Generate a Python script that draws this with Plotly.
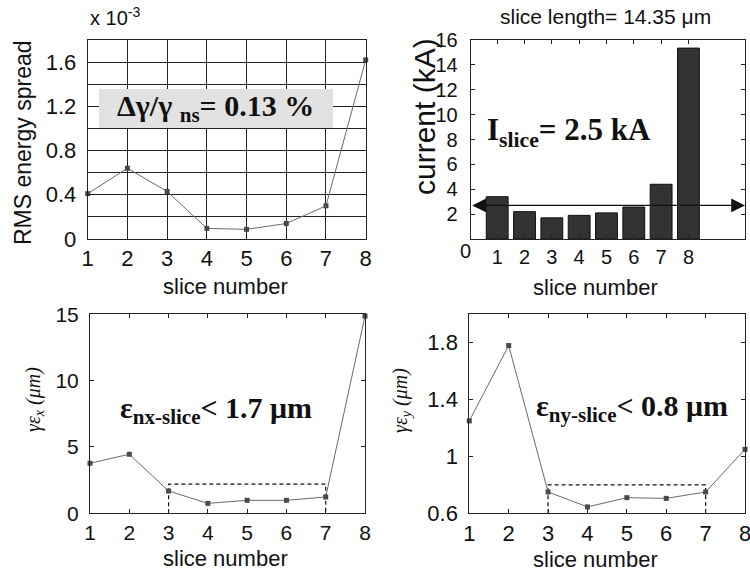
import plotly.graph_objects as go

# ---------------- data ----------------
slices = [1, 2, 3, 4, 5, 6, 7, 8]
energy_spread = [0.41, 0.64, 0.43, 0.096, 0.087, 0.14, 0.30, 1.62]      # x 10^-3
current_kA = [3.4, 2.2, 1.7, 1.9, 2.1, 2.57, 4.4, 15.35]
avg_current = 2.7
emit_x = [3.77, 4.45, 1.68, 0.75, 0.98, 0.98, 1.23, 14.87]
emit_y = [1.25, 1.78, 0.75, 0.645, 0.71, 0.705, 0.75, 1.05]
box_x = [3, 3, 7, 7]
box_x_top = [0, 2.2, 2.2, 0]
box_y_top = [0.6, 0.8, 0.8, 0.6]

p1_ticks = [0, 0.2, 0.4, 0.6, 0.8, 1.0, 1.2, 1.4, 1.6, 1.8]
p1_ticktext = ["0", "", "0.4", "", "0.8", "", "1.2", "", "1.6", ""]
p2_ticks = [0, 2, 4, 6, 8, 10, 12, 14, 16]
p2_ticktext = ["", "2", "4", "6", "8", "10", "12", "14", "16"]
p2_zero_label = "0"
p3_ticks = [0, 5, 10, 15]
p4_ticks = [0.6, 1.0, 1.4, 1.8]
p4_ticktext = ["0.6", "1", "1.4", "1.8"]

LINE = "#6a6a6a"
MARK = "#4a4a4a"
TXT = "#111111"
SANS = "Liberation Sans, Arial, sans-serif"
SERIF = "Liberation Serif, Times New Roman, serif"

fig = go.Figure()

mk = dict(symbol="square", size=5, color=MARK)
fig.add_trace(go.Scatter(x=slices, y=energy_spread, mode="lines+markers",
                         line=dict(color=LINE, width=1), marker=mk,
                         xaxis="x", yaxis="y", cliponaxis=False))
fig.add_trace(go.Bar(x=slices, y=current_kA, width=0.8,
                     marker=dict(color="#333333", line=dict(color="#111111", width=1)),
                     xaxis="x2", yaxis="y2"))
fig.add_trace(go.Scatter(x=box_x, y=box_x_top, mode="lines",
                         line=dict(color="#111111", width=1.2, dash="4px,3px"),
                         xaxis="x3", yaxis="y3", cliponaxis=False))
fig.add_trace(go.Scatter(x=slices, y=emit_x, mode="lines+markers",
                         line=dict(color=LINE, width=1), marker=mk,
                         xaxis="x3", yaxis="y3", cliponaxis=False))
fig.add_trace(go.Scatter(x=box_x, y=box_y_top, mode="lines",
                         line=dict(color="#111111", width=1.2, dash="4px,3px"),
                         xaxis="x4", yaxis="y4", cliponaxis=False))
fig.add_trace(go.Scatter(x=slices, y=emit_y, mode="lines+markers",
                         line=dict(color=LINE, width=1), marker=mk,
                         xaxis="x4", yaxis="y4", cliponaxis=False))

ax_common = dict(showline=True, linecolor="#222222", linewidth=1, mirror="ticks",
                 ticks="inside", ticklen=4, tickcolor="#222222", zeroline=False,
                 showgrid=False, automargin=False, ticklabeloverflow="allow",
                 tickfont=dict(family=SANS, color=TXT))

D1y = [1 - 239 / 576, 1 - 40 / 576]
D3y = [1 - 513.3 / 576, 1 - 314.3 / 576]

fig.update_layout(
    width=750, height=576, margin=dict(l=0, r=0, t=0, b=0, autoexpand=False),
    paper_bgcolor="white", plot_bgcolor="white", showlegend=False,
    xaxis=dict(ax_common, domain=[87.7 / 750, 365.7 / 750], range=[1, 8],
               tickvals=slices, showgrid=True, gridcolor="#222222", gridwidth=1,
               tickfont=dict(family=SANS, color=TXT, size=22), anchor="y"),
    yaxis=dict(ax_common, domain=D1y, range=[0, 1.8], tickvals=p1_ticks,
               ticktext=p1_ticktext, showgrid=True, gridcolor="#222222", gridwidth=1,
               ticklabelstandoff=6,
               tickfont=dict(family=SANS, color=TXT, size=22), anchor="x"),
    xaxis2=dict(ax_common, domain=[470.7 / 750, 745 / 750], range=[0.03, 10.07],
                tickvals=slices,
                tickfont=dict(family=SANS, color=TXT, size=20), anchor="y2"),
    yaxis2=dict(ax_common, domain=D1y, range=[0, 16], tickvals=p2_ticks,
                ticktext=p2_ticktext, ticklabelstandoff=8,
                tickfont=dict(family=SANS, color=TXT, size=20), anchor="x2"),
    xaxis3=dict(ax_common, domain=[90 / 750, 365 / 750], range=[1, 8],
                tickvals=slices, tickfont=dict(family=SANS, color=TXT, size=21), anchor="y3"),
    yaxis3=dict(ax_common, domain=D3y, range=[0, 15], tickvals=p3_ticks,
                ticklabelstandoff=6,
                tickfont=dict(family=SANS, color=TXT, size=21), anchor="x3"),
    xaxis4=dict(ax_common, domain=[469.3 / 750, 745 / 750], range=[1, 8],
                tickvals=slices, tickfont=dict(family=SANS, color=TXT, size=22), anchor="y4"),
    yaxis4=dict(ax_common, domain=D3y, range=[0.6, 2.0], tickvals=p4_ticks,
                ticklabelstandoff=6,
                ticktext=p4_ticktext, tickfont=dict(family=SANS, color=TXT, size=22), anchor="x4"),
)

# grey box behind the energy spread label
fig.add_shape(type="rect", xref="paper", yref="paper",
              x0=99 / 750, x1=333 / 750, y0=1 - 128 / 576, y1=1 - 89 / 576,
              fillcolor="#e2e2e2", line=dict(width=0), layer="above")

def ann(text, x, y, size, family=SANS, angle=0, xanchor="center", **kw):
    fig.add_annotation(text=text, x=x, y=y, xref="paper", yref="paper",
                       showarrow=False, textangle=angle, xanchor=xanchor, yanchor="middle",
                       font=dict(family=family, size=size, color=TXT), **kw)

ann("x 10<sup>-3</sup>", 88 / 750, 1 - 16 / 576, 20, xanchor="left")
ann("<b>Δγ/γ <sub>ns</sub>= 0.13 %</b>", 216 / 750, 1 - 108 / 576, 30, family=SERIF)
ann("slice length= 14.35 μm", 605 / 750, 1 - 17 / 576, 21)
ann("<b>I<sub>slice</sub>= 2.5 kA</b>", 569 / 750, 1 - 132 / 576, 31, family=SERIF)
ann("<b>ε<sub>nx-slice</sub>< 1.7 μm</b>", 216 / 750, 1 - 410 / 576, 30, family=SERIF)
ann("<b>ε<sub>ny-slice</sub>< 0.8 μm</b>", 632 / 750, 1 - 408 / 576, 30, family=SERIF)
ann("RMS energy spread", 23 / 750, 1 - 143 / 576, 23, angle=-90)
ann("current (kA)", 424 / 750, 1 - 117 / 576, 30, angle=-90)
ann(p2_zero_label, 465 / 750, 1 - 251 / 576, 20)
ann("slice number", 225 / 750, 1 - 286 / 576, 22)
ann("slice number", 595 / 750, 1 - 287 / 576, 22)
ann("slice number", 225 / 750, 1 - 558 / 576, 22)
ann("slice number", 595 / 750, 1 - 559 / 576, 22)
ann("<i>γε<sub>x</sub> (μm)</i>", 34 / 750, 1 - 400 / 576, 20, family=SERIF, angle=-90)
ann("<i>γε<sub>y</sub> (μm)</i>", 401 / 750, 1 - 400 / 576, 20, family=SERIF, angle=-90)

# double-headed arrow for average slice current
fig.add_annotation(x=10.07, y=avg_current, ax=0.03, ay=avg_current,
                   xref="x2", yref="y2", axref="x2", ayref="y2",
                   showarrow=True, arrowhead=2, arrowside="end+start",
                   arrowsize=2.3, arrowwidth=1.2, arrowcolor="#111111", text="")

fig.write_html("out.html", config={"displayModeBar": False},
               post_script="document.body.style.margin='0';document.body.style.overflow='hidden';")
